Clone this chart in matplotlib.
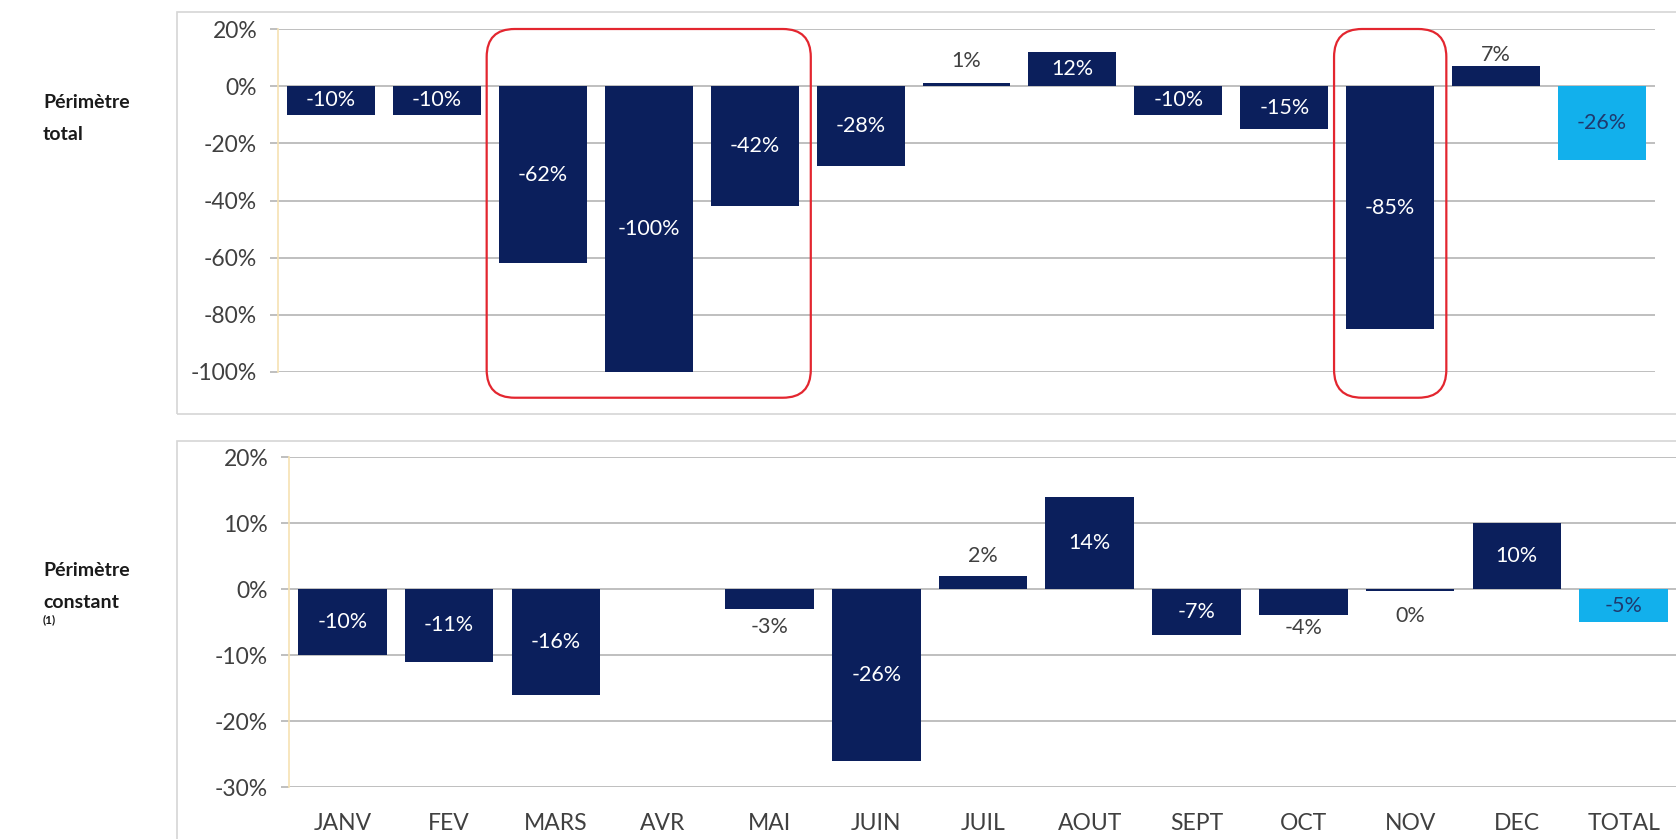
import matplotlib
matplotlib.use("Agg")
import matplotlib.pyplot as plt
from matplotlib.patches import FancyBboxPatch, Rectangle
from matplotlib.transforms import IdentityTransform

plt.rcParams['font.family'] = ['Lato', 'DejaVu Sans']

# ---------------- data ----------------
categories = ["JANV", "FEV", "MARS", "AVR", "MAI", "JUIN", "JUIL",
              "AOUT", "SEPT", "OCT", "NOV", "DEC", "TOTAL"]
perimetre_total = [-0.10, -0.10, -0.62, -1.00, -0.42, -0.28, 0.01,
                   0.12, -0.10, -0.15, -0.85, 0.07, -0.26]
perimetre_constant = [-0.10, -0.11, -0.16, None, -0.03, -0.26, 0.02,
                      0.14, -0.07, -0.04, -0.003, 0.10, -0.05]
top_ticks = [0.2, 0.0, -0.2, -0.4, -0.6, -0.8, -1.0]
bottom_ticks = [0.2, 0.1, 0.0, -0.1, -0.2, -0.3]
row_titles = [["Périmètre", "total"], ["Périmètre", "constant"]]
footnote = "(1)"
highlight_groups = [(2, 4), (10, 10)]   # category index ranges boxed in red (top panel)

# label offsets in pixels from the bar end (None => centred inside the bar)
top_label_offsets = [None, None, None, None, None, None, 22, None, None, None, None, 11, None]
bottom_label_offsets = [None, None, None, None, -18, None, 20, None, None, -13, -25, None, None]

# ---------------- style ----------------
W, H = 1676, 839
NAVY = "#0b1f5c"
LIGHT = "#12b0ec"
RED = "#e3262f"
GRID = "#b4b4b4"
TXT = "#404040"
FRAME = "#d6d6d6"
AXLINE = "#f6e2b3"
LABEL_FS = 15.5
TICK_FS = 16.5

fig = plt.figure(figsize=(W / 100, H / 100), dpi=100)


def axes_px(x0, x1, y_top, y_bot):
    return fig.add_axes([x0 / W, 1 - y_bot / H, (x1 - x0) / W, (y_bot - y_top) / H])


def pct(v):
    return f"{int(round(v * 100))}%"


def draw_panel(ax, values, ticks, offsets, ylim, show_x):
    n = len(categories)
    xs = list(range(n))
    colors = [NAVY] * (n - 1) + [LIGHT]
    for i, v in enumerate(values):
        if v is None:
            continue
        ax.bar(i, v, width=0.83, color=colors[i], zorder=3)
        off = offsets[i]
        if off is None:
            tc = "white" if i < n - 1 else "#1f3a6e"
            ax.text(i, v / 2, pct(v), ha="center", va="center", color=tc,
                    fontsize=LABEL_FS, zorder=4)
        else:
            ax.annotate(pct(v), xy=(i, v), xytext=(0, off * 0.72),
                        textcoords="offset points", ha="center", va="center",
                        color=TXT, fontsize=LABEL_FS, zorder=4)
    ax.set_xlim(-0.5, n - 0.5)
    ax.set_ylim(*ylim)
    ax.set_yticks(ticks)
    ax.set_yticklabels([pct(t) for t in ticks])
    ax.yaxis.grid(True, color=GRID, linewidth=1.2, zorder=0)
    ax.set_axisbelow(True)
    for s in ["top", "right", "bottom"]:
        ax.spines[s].set_visible(False)
    ax.spines["left"].set_color(AXLINE)
    ax.spines["left"].set_linewidth(1.2)
    ax.tick_params(axis="y", length=6, color=GRID, width=1.2, pad=9,
                   labelsize=TICK_FS, labelcolor=TXT)
    ax.set_xticks(xs)
    if show_x:
        ax.set_xticklabels(categories)
        ax.tick_params(axis="x", length=0, pad=19, labelsize=TICK_FS, labelcolor=TXT)
    else:
        ax.set_xticklabels([])
        ax.tick_params(axis="x", length=0)
    ax.set_facecolor("none")


# panel frames (pixel coordinates)
def frame(x0, y_top, x1, y_bot):
    r = Rectangle((x0, H - y_bot), x1 - x0, y_bot - y_top, transform=IdentityTransform(),
                  facecolor="none", edgecolor=FRAME, linewidth=1.2)
    fig.add_artist(r)


frame(177, 12, W + 5, 414)
frame(177, 441, W + 5, H + 5)

ax1 = axes_px(278, 1655, 29, 372)
ax2 = axes_px(289, 1677, 457, 787)

draw_panel(ax1, perimetre_total, top_ticks, top_label_offsets, (-1.0, 0.2), False)
draw_panel(ax2, perimetre_constant, bottom_ticks, bottom_label_offsets, (-0.3, 0.2), True)

# red rounded highlight boxes on the top panel
fig.canvas.draw()
for a, b in highlight_groups:
    p0 = ax1.transData.transform((a - 0.53, 0.2))
    p1 = ax1.transData.transform((b + 0.53, -1.09))
    box = FancyBboxPatch((p0[0], p1[1]), p1[0] - p0[0], p0[1] - p1[1],
                         boxstyle="round,pad=0,rounding_size=28",
                         transform=IdentityTransform(), facecolor="none",
                         edgecolor=RED, linewidth=1.6, zorder=10)
    fig.add_artist(box)

# row titles
TITLE_KW = dict(fontsize=14, fontweight="bold", color="#1a1a1a", ha="left", va="center")
fig.text(43 / W, 1 - 103 / H, row_titles[0][0], **TITLE_KW)
fig.text(43 / W, 1 - 135 / H, row_titles[0][1], **TITLE_KW)
fig.text(43 / W, 1 - 570 / H, row_titles[1][0], **TITLE_KW)
fig.text(43 / W, 1 - 602 / H, row_titles[1][1], **TITLE_KW)
fig.text(43 / W, 1 - 620 / H, footnote, fontsize=8.5, fontweight="bold",
         color="#1a1a1a", ha="left", va="center")

fig.savefig("out.png", dpi=100)
